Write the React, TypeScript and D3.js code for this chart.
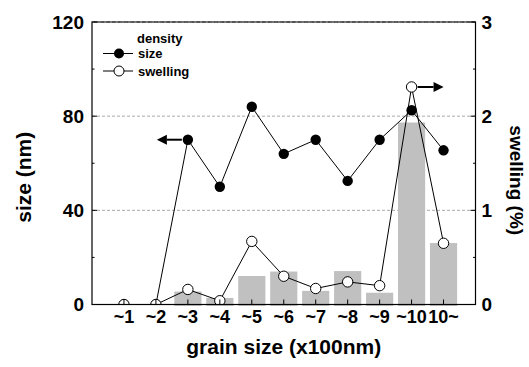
import * as d3 from 'd3'

const categories = ['~1', '~2', '~3', '~4', '~5', '~6', '~7', '~8', '~9', '~10', '10~']
const sizeNm = [0, 0, 70, 50, 84, 64, 70, 52.5, 70, 82.5, 65.5]
const swelling = [0, 0, 0.16, 0.04, 0.67, 0.3, 0.17, 0.24, 0.2, 2.31, 0.65]
// density bars, read in left-axis units
const density = [0, 0, 5.5, 2.8, 12.1, 14, 5.8, 14.2, 5, 77.3, 26.1]
const leftTicks = [0, 40, 80, 120]
const leftMinor = [20, 60, 100]
const rightTicks = [0, 1, 2, 3]
const rightMinor = [0.5, 1.5, 2.5]

const W = 529
const H = 367
const m = { left: 92, right: 475.5, top: 22, bottom: 304.5 }
const FONT = "'Liberation Sans', Arial, sans-serif"

export default function App() {
  const x = d3.scaleLinear().domain([0, categories.length + 1]).range([m.left, m.right])
  const yL = d3.scaleLinear().domain([0, 120]).range([m.bottom, m.top])
  const yR = d3.scaleLinear().domain([0, 3]).range([m.bottom, m.top])
  const step = x(1) - x(0)
  const barW = step * 0.85

  const sizeLine = d3.line<number>().x((_, i) => x(i + 1)).y(d => yL(d))
  const swellLine = d3.line<number>().x((_, i) => x(i + 1)).y(d => yR(d))

  const arrow = (x0: number, x1: number, y: number) => {
    const dir = Math.sign(x1 - x0)
    const head = 10
    return (
      <g>
        <line x1={x0} x2={x1 - dir * head} y1={y} y2={y} stroke="#000" strokeWidth={2} />
        <path d={`M${x1},${y}L${x1 - dir * head},${y - 5}L${x1 - dir * head},${y + 5}Z`} fill="#000" />
      </g>
    )
  }

  return (
    <svg width={W} height={H} style={{ position: 'absolute', left: 0, top: 0, background: '#fff' }} fontFamily={FONT}>
      <defs>
        <clipPath id="plot">
          <rect x={m.left} y={m.top} width={m.right - m.left} height={m.bottom - m.top} />
        </clipPath>
      </defs>

      {/* grid */}
      {leftTicks.filter(t => t > 0).map(t => (
        <line key={t} x1={m.left} x2={m.right} y1={yL(t)} y2={yL(t)} stroke="#aaa" strokeWidth={1} strokeDasharray="3,2" />
      ))}

      {/* density bars */}
      {density.map((d, i) => d > 0 && (
        <rect key={i} x={x(i + 1) - barW / 2} y={yL(d)} width={barW} height={yL(0) - yL(d) + 1.5} fill="#c0c0c0" />
      ))}

      <g clipPath="url(#plot)">
        <path d={sizeLine(sizeNm) || ''} fill="none" stroke="#000" strokeWidth={1} />
        <path d={swellLine(swelling) || ''} fill="none" stroke="#000" strokeWidth={1} />
        {sizeNm.map((d, i) => (
          <circle key={'s' + i} cx={x(i + 1)} cy={yL(d)} r={5.2} fill="#000" />
        ))}
        {swelling.map((d, i) => (
          <circle key={'w' + i} cx={x(i + 1)} cy={yR(d)} r={5.2} fill="#fff" stroke="#000" strokeWidth={1} />
        ))}
      </g>

      {arrow(x(3) - 6, x(3) - 31, yL(sizeNm[2]))}
      {arrow(x(10) + 6, x(10) + 32, yR(swelling[9]))}

      {/* frame */}
      <rect x={m.left} y={m.top} width={m.right - m.left} height={m.bottom - m.top} fill="none" stroke="#000" strokeWidth={1.2} />
      <line x1={m.left} x2={m.right} y1={m.top} y2={m.top} stroke="#999" strokeWidth={1.2} strokeDasharray="2,4" />

      {/* left axis */}
      {leftTicks.map(t => (
        <g key={t}>
          <line x1={m.left} x2={m.left + 5} y1={yL(t)} y2={yL(t)} stroke="#000" />
          <text x={m.left - 8} y={yL(t)} dy="0.36em" textAnchor="end" fontSize={19} fontWeight="bold">{t}</text>
        </g>
      ))}
      {leftMinor.map(t => (
        <line key={t} x1={m.left} x2={m.left + 2.5} y1={yL(t)} y2={yL(t)} stroke="#000" />
      ))}

      {/* right axis */}
      {rightTicks.map(t => (
        <g key={t}>
          <line x1={m.right} x2={m.right - 5} y1={yR(t)} y2={yR(t)} stroke="#000" />
          <text x={m.right + 6} y={yR(t)} dy="0.36em" textAnchor="start" fontSize={19} fontWeight="bold">{t}</text>
        </g>
      ))}
      {rightMinor.map(t => (
        <line key={t} x1={m.right} x2={m.right - 2.5} y1={yR(t)} y2={yR(t)} stroke="#000" />
      ))}

      {/* x axis */}
      {categories.map((c, i) => (
        <g key={c}>
          <line x1={x(i + 1)} x2={x(i + 1)} y1={m.bottom} y2={m.bottom - 5} stroke="#000" />
          <text x={x(i + 1)} y={m.bottom + 18} textAnchor="middle" fontSize={18} fontWeight="bold">{c}</text>
        </g>
      ))}

      {/* titles */}
      <text x={(m.left + m.right) / 2} y={354} textAnchor="middle" fontSize={21} fontWeight="bold">grain size (x100nm)</text>
      <text transform={`translate(31,${(m.top + m.bottom) / 2 + 14}) rotate(-90)`} textAnchor="middle" fontSize={21} fontWeight="bold">size (nm)</text>
      <text transform={`translate(510,${(m.top + m.bottom) / 2 + 17}) rotate(90)`} textAnchor="middle" fontSize={19} fontWeight="bold">swelling (%)</text>

      {/* legend */}
      <g fontSize={13} fontWeight="bold">
        <text x={137} y={43}>density</text>
        <line x1={103} x2={133} y1={53.5} y2={53.5} stroke="#000" />
        <circle cx={119} cy={53.5} r={5} fill="#000" />
        <text x={138} y={58}>size</text>
        <line x1={103} x2={133} y1={71} y2={71} stroke="#000" />
        <circle cx={119} cy={71} r={5} fill="#fff" stroke="#000" />
        <text x={138} y={75.5}>swelling</text>
      </g>
    </svg>
  )
}
